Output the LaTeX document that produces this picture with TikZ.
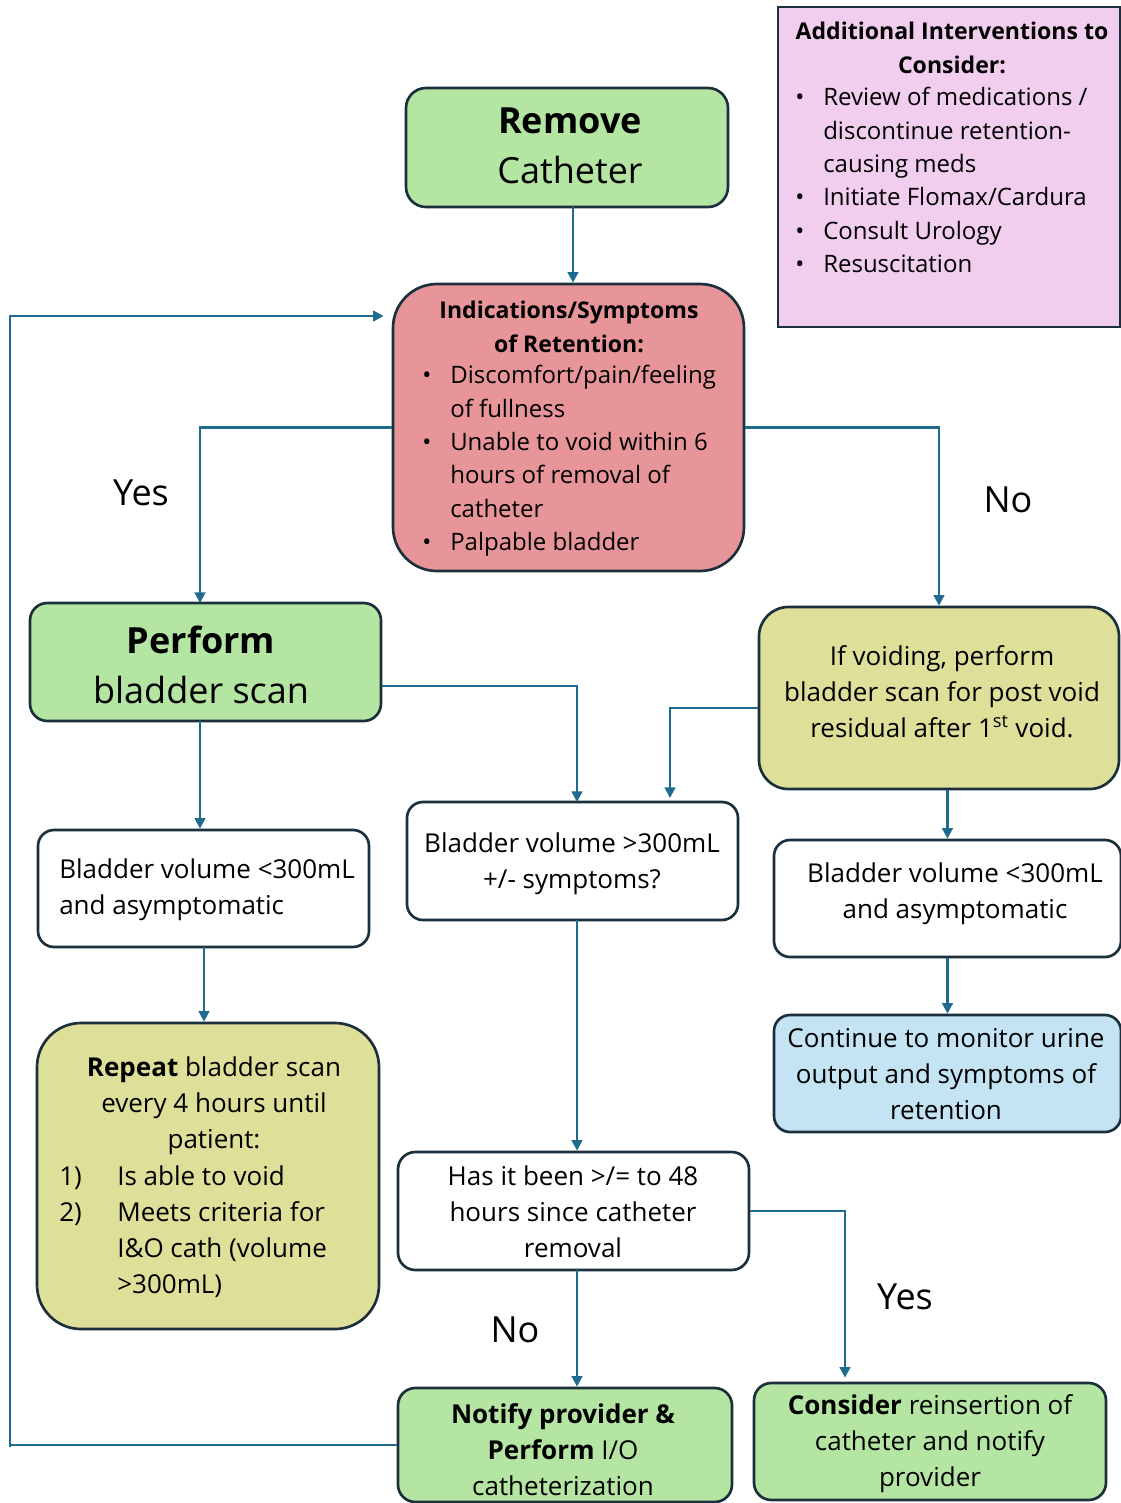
\documentclass[tikz,border=0pt]{standalone}
\usepackage{fontspec}
\setmainfont{Open Sans}
\usetikzlibrary{arrows.meta,fit,calc}
\definecolor{cgreen}{HTML}{B4E5A2}
\definecolor{cred}{HTML}{E8959A}
\definecolor{cyel}{HTML}{DEE09A}
\definecolor{cblue}{HTML}{C4E4F4}
\definecolor{cpink}{HTML}{F1CDEE}
\definecolor{cline}{HTML}{1F6B8F}
\definecolor{cedge}{HTML}{1B2F3D}
\newcommand\fsbody{\fontsize{19.5pt}{27pt}\selectfont}
\newcommand\fssmall{\fontsize{18pt}{25pt}\selectfont}
\newcommand\fsbold{\fontsize{17.3pt}{25pt}\selectfont}
\newcommand\fsbig{\fontsize{27pt}{37.5pt}\selectfont}
\newcommand\fslab{\fontsize{27pt}{32pt}\selectfont}
\newcommand\bul[1]{\makebox[#1][l]{\textbullet}}
\begin{document}
\begin{tikzpicture}[x=0.75pt,y=-0.75pt,
  box/.style={draw=cedge, line width=2pt, inner sep=0pt},
  arr/.style={draw=cline, line width=1.9pt, -{Triangle[length=8pt,width=8pt]}},
  txt/.style={inner sep=0pt, align=center, text=black, font=\fsbody},
  lab/.style={inner sep=0pt, font=\fslab}]
\useasboundingbox (0,0) rectangle (1121,1503);

% boxes
\node[box, fill=cpink, fit={(778,7) (1120,327)}] (add) {};
\node[box, fill=cgreen, rounded corners=15pt, fit={(406,88) (728,207)}] (remove) {};
\node[box, fill=cred, rounded corners=33pt, fit={(393,284) (744,571)}] (ind) {};
\node[box, fill=cgreen, rounded corners=13pt, fit={(30,603) (381,721)}] (perform) {};
\node[box, fill=cyel, rounded corners=22pt, fit={(759,607) (1119,789)}] (void) {};
\node[box, fill=white, rounded corners=12pt, fit={(38,830) (369,947)}] (lb) {};
\node[box, fill=white, rounded corners=12pt, fit={(407,802) (738,920)}] (mid) {};
\node[box, fill=white, rounded corners=12pt, fit={(774,840) (1121,957)}] (rb) {};
\node[box, fill=cblue, rounded corners=12pt, fit={(774,1015) (1121,1132)}] (cont) {};
\node[box, fill=cyel, rounded corners=33pt, fit={(37,1023) (379,1329)}] (rep) {};
\node[box, fill=white, rounded corners=13pt, fit={(398,1152) (749,1270)}] (has) {};
\node[box, fill=cgreen, rounded corners=13pt, fit={(398,1388) (732,1502)}] (notify) {};
\node[box, fill=cgreen, rounded corners=13pt, fit={(754,1383) (1106,1500)}] (cons) {};

% texts
\node[txt, font=\fsbold\bfseries] (addT) at (952,48) {Additional Interventions to\\Consider:};
\node[txt, font=\fssmall, align=left, anchor=west] (addL) at (795,180) {%
\bul{21pt}Review of medications /\\
\hspace*{21pt}discontinue retention-\\
\hspace*{21pt}causing meds\\
\bul{21pt}Initiate Flomax/Cardura\\
\bul{21pt}Consult Urology\\
\bul{21pt}Resuscitation};

\node[txt, font=\fsbig] (remT) at (570,146) {\textbf{Remove}\\Catheter};

\node[txt, font=\fsbold\bfseries] (indT) at (569,327) {Indications/Symptoms\\of Retention:};
\node[txt, font=\fssmall, align=left, anchor=west] (indL) at (422,461) {%
\bul{21pt}Discomfort/pain/feeling\\
\hspace*{21pt}of fullness\\
\bul{21pt}Unable to void within 6\\
\hspace*{21pt}hours of removal of\\
\hspace*{21pt}catheter\\
\bul{21pt}Palpable bladder};

\node[txt, font=\fsbig] (perT) at (201,665) {\textbf{Perform}\\bladder scan};

\node[txt] (voidT) at (942,692) {If voiding, perform\\bladder scan for post void\\residual after 1\textsuperscript{st} void.};

\node[txt, align=left, anchor=west] (lbT) at (59,890) {Bladder volume <300mL\\and asymptomatic};
\node[txt] (midT) at (572,864) {Bladder volume >300mL\\+/- symptoms?};
\node[txt] (rbT) at (955,894) {Bladder volume <300mL\\and asymptomatic};
\node[txt] (contT) at (946,1074) {Continue to monitor urine\\output and symptoms of\\retention};

\node[txt] (repT) at (214,1106) {\textbf{Repeat} bladder scan\\every 4 hours until\\patient:};
\node[txt, align=left, anchor=west] (repL) at (59,1232) {%
\makebox[43.5pt][l]{1)}Is able to void\\
\makebox[43.5pt][l]{2)}Meets criteria for\\
\hspace*{43.5pt}I\&O cath (volume\\
\hspace*{43.5pt}>300mL)};

\node[txt] (hasT) at (573,1212) {Has it been >/= to 48\\hours since catheter\\removal};
\node[txt] (notT) at (563,1450) {\textbf{Notify provider \&}\\\textbf{Perform} I/O\\catheterization};
\node[txt] (consT) at (930,1444) {\textbf{Consider} reinsertion of\\catheter and notify\\provider};

% labels
\node[lab] (yes1) at (141,493) {Yes};
\node[lab] (no1) at (1008,500) {No};
\node[lab] (no2) at (515,1330) {No};
\node[lab] (yes2) at (905,1297) {Yes};

% helper coordinates on box edges
\coordinate (cRem) at (573,207);
\coordinate (cPer) at (200,603);
\coordinate (cPerB) at (200,721);
\coordinate (cMidA) at (577,802);
\coordinate (cMidB) at (670,802);
\coordinate (cMidS) at (577,920);
\coordinate (cHasS) at (577,1270);
\coordinate (cCons) at (845,1383);
\coordinate (cLb) at (204,947);
\coordinate (lpA) at (10,1447);
\coordinate (lpB) at (10,316);

% connectors
\draw[arr] (cRem) -- (cRem |- ind.north);
\draw[arr] (ind.west) -| (cPer);
\draw[arr] (ind.east) -| (void.north);
\draw[arr] (cPerB) -- (cPerB |- lb.north);
\draw[arr] ([yshift=-18pt]perform.east) -| (cMidA);
\draw[arr, shorten >=3pt] ([yshift=-7.5pt]void.west) -| (cMidB);
\draw[arr] (rb.north |- void.south) -- (rb.north);
\draw[arr] (rb.south) -- (cont.north);
\draw[arr] (cLb) -- (cLb |- rep.north);
\draw[arr] (cMidS) -- (cMidS |- has.north);
\draw[arr] (cHasS) -- (cHasS |- notify.north);
\draw[arr, shorten >=4pt] (has.east) -| (cCons);
\draw[arr, shorten >=6pt] (lpA |- notify.west) -- (lpA) -- (lpB) -- (ind.west |- lpB);
\draw[draw=cline, line width=1.9pt] (notify.west) -- (lpA |- notify.west);
\end{tikzpicture}
\end{document}
